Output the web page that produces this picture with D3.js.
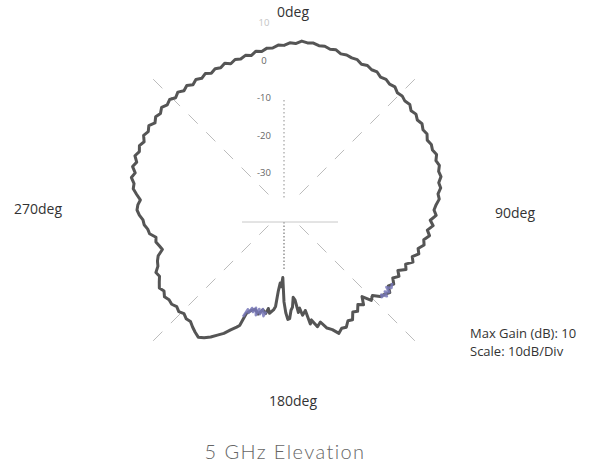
<!DOCTYPE html>
<html>
<head>
<meta charset="utf-8">
<script src="https://cdn.jsdelivr.net/npm/d3@7"></script>
<style>
html,body{margin:0;padding:0;background:#fff;}
svg{display:block;}
</style>
</head>
<body>
<svg id="chart" width="599" height="463"></svg>
<script>
// ---- data ----
const angles = [0,2,4,6,8,10,12,14,16,18,20,22,24,26,28,30,32,34,36,38,40,42,44,46,48,50,52,54,56,58,60,62,64,66,68,70,72,74,76,78,80,82,84,86,88,90,92,94,96,98,100,102,104,106,108,110,112,114,116,118,120,122,124,126,128,130,132,134,136,138,140,142,144,146,148,150,152,154,156,158,160,162,164,166,167,168,170,171,172,173,174,175,176,177,178,179,180,181,182,183,184,185,186,188,189,190,192,194,196,198,200,201,202,204,206,208,210,212,214,216,218,220,222,224,226,228,230,232,234,236,238,240,242,244,246,248,250,252,254,256,258,260,262,264,266,268,270,272,274,276,278,280,282,284,286,288,290,292,294,296,298,300,302,304,306,308,310,312,314,316,318,320,322,324,326,328,330,332,334,336,338,340,342,344,346,348,350,352,354,356,358];
const gainDb = [3.9,4.6,4.5,5.3,5.0,5.2,4.8,5.0,4.6,4.9,4.3,4.6,4.4,4.6,4.0,4.5,4.1,4.4,3.8,4.2,3.8,4.2,3.5,3.8,3.4,3.8,3.0,3.5,2.9,3.4,2.8,3.2,2.5,3.0,2.7,3.3,2.6,3.1,2.5,2.8,1.9,2.2,1.3,1.5,0.6,0.0,0.6,-0.9,0.0,-1.4,-0.6,-1.9,-1.5,-2.8,-2.2,-3.6,-2.9,-4.5,-3.8,-5.6,-4.6,-5.8,-4.7,-5.6,-4.2,-5.0,-5.5,-7.2,-6.5,-8.9,-7.0,-8.0,-6.6,-7.2,-5.5,-5.9,-4.6,-4.9,-4.0,-5.6,-6.5,-8.6,-7.6,-9.8,-8.8,-12.6,-11.5,-13.5,-12.4,-15.8,-16.6,-14.0,-13.2,-11.0,-10.8,-12.6,-15.5,-22.0,-19.5,-20.5,-18.4,-14.2,-13.2,-12.2,-13.4,-12.0,-12.8,-11.4,-12.4,-11.9,-10.6,-7.0,-6.3,-5.0,-3.4,-2.2,-0.9,0.2,0.9,0.3,-0.4,-1.2,-1.0,-1.6,-1.0,-1.5,-0.9,-1.1,-0.6,-1.4,-0.8,-1.6,-2.4,-2.0,-3.2,-3.6,-4.3,-5.9,-5.4,-4.8,-5.1,-3.6,-3.3,-2.5,-2.3,-1.4,-0.8,-1.0,-1.6,-0.5,0.6,0.6,1.6,0.9,2.0,1.3,2.3,1.6,2.2,1.5,2.4,1.8,2.5,1.5,2.3,1.8,2.6,1.9,2.4,1.6,2.3,1.5,2.1,1.3,2.0,1.4,2.0,1.3,1.9,1.5,2.2,1.5,2.2,1.9,2.5,2.1,3.0,2.7,3.4,3.3,4.0];

// second (blue) trace segments
const blueAnglesA = [190,191,192,193,194,195,196,197,198,199,200,201];
const blueDbA = [-12.5,-11.2,-13.0,-11.5,-12.8,-11.0,-12.9,-11.6,-12.5,-11.0,-11.8,-9.5];
const blueAnglesB = [124,126,127,128,129,130,131,132];
const blueDbB = [-5.2,-4.6,-5.8,-4.4,-5.4,-4.2,-5.6,-4.8];

const radialTicks = [10, 0, -10, -20, -30];
const angleLabels = ["0deg", "90deg", "180deg", "270deg"];
const infoLines = ["Max Gain (dB): 10", "Scale: 10dB/Div"];
const title = "5 GHz Elevation";

// ---- drawing ----
const svg = d3.select("#chart");
const cx = 284, cy = 210;
const r = d3.scaleLinear().domain([-40, 10]).range([0, 187.5]);
const g = svg.append("g").attr("transform", `translate(${cx},${cy})`);
const rad = a => a * Math.PI / 180;

// dashed diagonal spokes
[45, 135, 225, 315].forEach(a => {
  g.append("line")
    .attr("x1", Math.sin(rad(a)) * 22).attr("y1", -Math.cos(rad(a)) * 22)
    .attr("x2", Math.sin(rad(a)) * 192).attr("y2", -Math.cos(rad(a)) * 192)
    .attr("stroke", "#bcbcbc").attr("stroke-width", 1)
    .attr("stroke-dasharray", "13,12");
});
// dotted vertical spoke
g.append("line").attr("x1", 0).attr("x2", 0).attr("y1", -110).attr("y2", -12)
  .attr("stroke", "#9a9a9a").attr("stroke-width", 1.1).attr("stroke-dasharray", "1.5,2.5");
g.append("line").attr("x1", 0).attr("x2", 0).attr("y1", 12).attr("y2", 60)
  .attr("stroke", "#777").attr("stroke-width", 1.2).attr("stroke-dasharray", "1.5,2");
// horizontal faint line
g.append("line").attr("x1", -42).attr("x2", 54).attr("y1", 12).attr("y2", 12)
  .attr("stroke", "#c8c8c8").attr("stroke-width", 1);

// radial tick labels
g.selectAll("text.rt").data(radialTicks).enter().append("text")
  .attr("class", "rt")
  .attr("x", -20).attr("y", d => -r(d) + 3.5)
  .attr("text-anchor", "middle")
  .attr("font-family", "Open Sans, sans-serif").attr("font-size", 9.5)
  .attr("fill", d => d === 10 ? "#c4c4c4" : "#666")
  .text(d => d);

// main trace
const pts = angles.map((a, i) => ({a, v: gainDb[i]}));
const line = d3.lineRadial().angle(d => rad(d.a)).radius(d => r(d.v));
g.append("path").datum(pts)
  .attr("d", line.curve(d3.curveLinearClosed))
  .attr("fill", "none").attr("stroke", "#555").attr("stroke-width", 3)
  .attr("stroke-linejoin", "round");

// blue trace segments
const lineOpen = d3.lineRadial().angle(d => rad(d.a)).radius(d => r(d.v));
[[blueAnglesA, blueDbA], [blueAnglesB, blueDbB]].forEach(([as, vs]) => {
  g.append("path").datum(as.map((a, i) => ({a, v: vs[i]})))
    .attr("d", lineOpen)
    .attr("fill", "none").attr("stroke", "#7878b8").attr("stroke-width", 2.6)
    .attr("stroke-opacity", 0.85).attr("stroke-linejoin", "round");
});

// angle labels
const labelPos = [
  {t: angleLabels[0], x: 9, y: -193},
  {t: angleLabels[1], x: 231, y: 8},
  {t: angleLabels[2], x: 9, y: 196},
  {t: angleLabels[3], x: -246, y: 4}
];
g.selectAll("text.al").data(labelPos).enter().append("text")
  .attr("class", "al")
  .attr("x", d => d.x).attr("y", d => d.y)
  .attr("text-anchor", "middle")
  .attr("font-family", "Open Sans, sans-serif").attr("font-size", 14)
  .attr("fill", "#333")
  .text(d => d.t);

// info text
svg.selectAll("text.info").data(infoLines).enter().append("text")
  .attr("class", "info")
  .attr("x", 470).attr("y", (d, i) => 338 + i * 18)
  .attr("font-family", "Open Sans, sans-serif").attr("font-size", 13)
  .attr("fill", "#333")
  .text(d => d);

// title
svg.append("text").attr("x", 285).attr("y", 459)
  .attr("text-anchor", "middle")
  .attr("font-family", "Lato, sans-serif").attr("font-weight", 300)
  .attr("font-size", 20).attr("letter-spacing", 1.4)
  .attr("fill", "#666")
  .text(title);
</script>
</body>
</html>
